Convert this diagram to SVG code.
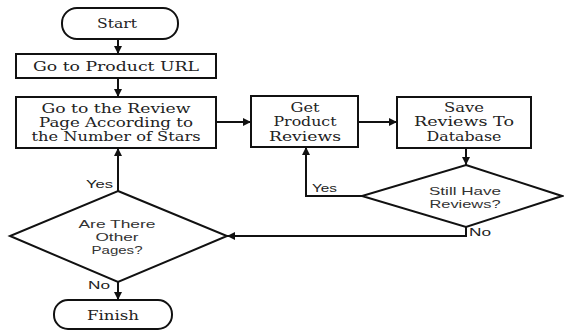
<svg xmlns="http://www.w3.org/2000/svg" width="564" height="331" viewBox="0 0 564 331">
<style>
.shape{fill:#fff;stroke:#111;stroke-width:2}
.tserif{font-family:'DejaVu Serif','Liberation Serif','Times New Roman',serif;font-size:12px;fill:#222;text-anchor:middle}
.tsans{font-family:'Liberation Sans',Arial,sans-serif;font-size:11px;fill:#333;text-anchor:middle}
.lbl{font-family:'Liberation Sans',Arial,sans-serif;font-size:11px;fill:#222}
.conn{fill:none;stroke:#111;stroke-width:2}
</style>
<defs>
<marker id="arr" viewBox="0 0 10 10" refX="10" refY="5" markerWidth="4" markerHeight="4" orient="auto" markerUnits="strokeWidth">
<path d="M0,0 L10,5 L0,10 z" fill="#111"/>
</marker>
</defs>
<rect width="564" height="331" fill="#fff"/>
<g id="connectors">
<path class="conn" d="M118,39 V54" marker-end="url(#arr)"/>
<path class="conn" d="M118,78 V97" marker-end="url(#arr)"/>
<path class="conn" d="M216,122 H251" marker-end="url(#arr)"/>
<path class="conn" d="M358,122 H397" marker-end="url(#arr)"/>
<path class="conn" d="M466,148 V165" marker-end="url(#arr)"/>
<path class="conn" d="M362,196 H306 V147" marker-end="url(#arr)"/>
<path class="conn" d="M466,227 V236 H227" marker-end="url(#arr)"/>
<path class="conn" d="M118,191 V148" marker-end="url(#arr)"/>
<path class="conn" d="M118,282 V300" marker-end="url(#arr)"/>
<text class="lbl" x="86" y="188" textLength="27" lengthAdjust="spacingAndGlyphs">Yes</text>
<text class="lbl" x="88" y="289" textLength="22" lengthAdjust="spacingAndGlyphs">No</text>
<text class="lbl" x="312" y="192" textLength="25" lengthAdjust="spacingAndGlyphs">Yes</text>
<text class="lbl" x="469" y="236" textLength="22" lengthAdjust="spacingAndGlyphs">No</text>
</g>
<g id="start">
<rect class="shape" x="62" y="8" width="116" height="31" rx="15"/>
<text class="tserif" x="117" y="28" textLength="40" lengthAdjust="spacingAndGlyphs">Start</text>
</g>
<g id="goto-url">
<rect class="shape" x="16" y="54" width="200" height="24"/>
<text class="tserif" x="116" y="71" textLength="166" lengthAdjust="spacingAndGlyphs">Go to Product URL</text>
</g>
<g id="review-page">
<rect class="shape" x="16" y="97" width="200" height="51"/>
<text class="tserif" x="116" y="113" textLength="149" lengthAdjust="spacingAndGlyphs">Go to the Review</text>
<text class="tserif" x="116" y="127" textLength="154" lengthAdjust="spacingAndGlyphs">Page According to</text>
<text class="tserif" x="116" y="141" textLength="169" lengthAdjust="spacingAndGlyphs">the Number of Stars</text>
</g>
<g id="get-reviews">
<rect class="shape" x="251" y="96" width="107" height="51"/>
<text class="tserif" x="305" y="112" textLength="29" lengthAdjust="spacingAndGlyphs">Get</text>
<text class="tserif" x="305" y="126" textLength="63" lengthAdjust="spacingAndGlyphs">Product</text>
<text class="tserif" x="305" y="141" textLength="72" lengthAdjust="spacingAndGlyphs">Reviews</text>
</g>
<g id="save-reviews">
<rect class="shape" x="397" y="97" width="134" height="51"/>
<text class="tserif" x="464" y="112" textLength="40" lengthAdjust="spacingAndGlyphs">Save</text>
<text class="tserif" x="464" y="126" textLength="100" lengthAdjust="spacingAndGlyphs">Reviews To</text>
<text class="tserif" x="464" y="141" textLength="75" lengthAdjust="spacingAndGlyphs">Database</text>
</g>
<g id="still-have-reviews">
<polygon class="shape" points="466,165 562,196 466,227 362,196"/>
<text class="tsans" x="465" y="195" textLength="72" lengthAdjust="spacingAndGlyphs">Still Have</text>
<text class="tsans" x="465" y="208" textLength="71" lengthAdjust="spacingAndGlyphs">Reviews?</text>
</g>
<g id="other-pages">
<polygon class="shape" points="118,191 227,236 118,282 10,236"/>
<text class="tsans" x="117" y="228" textLength="77" lengthAdjust="spacingAndGlyphs">Are There</text>
<text class="tsans" x="117" y="241" textLength="43" lengthAdjust="spacingAndGlyphs">Other</text>
<text class="tsans" x="117" y="254" textLength="51" lengthAdjust="spacingAndGlyphs">Pages?</text>
</g>
<g id="finish">
<rect class="shape" x="54" y="300" width="118" height="29" rx="14"/>
<text class="tserif" x="113" y="320" textLength="52" lengthAdjust="spacingAndGlyphs">Finish</text>
</g>
</svg>
